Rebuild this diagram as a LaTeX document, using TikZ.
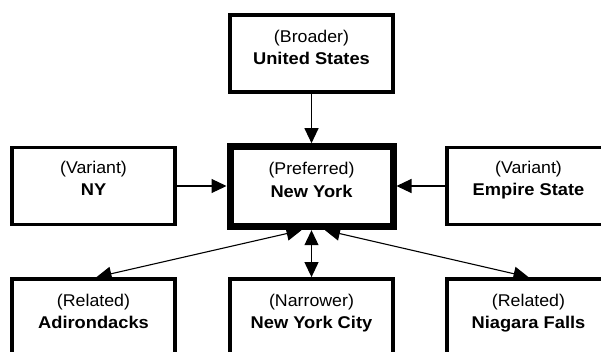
\documentclass[tikz,border=0pt]{standalone}
\usepackage{fontspec}
\setmainfont{Liberation Sans}[FakeStretch=1.045, BoldFeatures={FakeStretch=1.075}]
\usetikzlibrary{arrows.meta}
\begin{document}
\begin{tikzpicture}[x=1pt, y=-1pt,
  termbox/.style={draw, rectangle, line width=3.8pt, minimum width=163pt,
    minimum height=77pt, inner sep=0pt},
  mainbox/.style={termbox, line width=7pt, minimum height=80pt},
  termtext/.style={align=center, inner sep=0pt, anchor=base,
    font=\fontsize{17}{22.5}\selectfont},
  link/.style={line width=1.1pt, -{Triangle[length=15pt, width=14pt]}},
  twolink/.style={line width=1.1pt, {Triangle[length=15pt, width=14pt]}-{Triangle[length=15pt, width=14pt]}}]
  \useasboundingbox (0,0) rectangle (601,351);
  \begin{scope}
  \clip (0,0) rectangle (601,351);
  % boxes
  \node[termbox] (us)  at (311.5, 53.8) {};
  \node[termbox] (ny)  at (93.5, 186) {};
  \node[mainbox] (nyk) at (311.5, 186.7) {};
  \node[termbox] (es)  at (528.5, 186) {};
  \node[termbox] (adi) at (93.5, 317.5) {};
  \node[termbox] (nyc) at (311.5, 317.5) {};
  \node[termbox] (nf)  at (528.5, 317.5) {};
  % labels
  \node[termtext] (tus)  at ([yshift=-11]us.center)  {(Broader)\\\textbf{United States}};
  \node[termtext] (tny)  at ([yshift=-9.5]ny.center)  {(Variant)\\\textbf{NY}};
  \node[termtext] (tnyk) at ([yshift=-10.5]nyk.center) {(Preferred)\\\textbf{New York}};
  \node[termtext] (tes)  at ([yshift=-9.5]es.center)  {(Variant)\\\textbf{Empire State}};
  \node[termtext] (tadi) at ([yshift=-11]adi.center) {(Related)\\\textbf{Adirondacks}};
  \node[termtext] (tnyc) at ([yshift=-11]nyc.center) {(Narrower)\\\textbf{New York City}};
  \node[termtext] (tnf)  at ([yshift=-11]nf.center)  {(Related)\\\textbf{Niagara Falls}};
  % connectors
  \draw[link] (us.south) -- (nyk.north);
  \draw[link] (ny.east) -- (ny.east -| nyk.west);
  \draw[link] (es.west) -- (es.west -| nyk.east);
  \draw[twolink] (nyk.south) -- (nyc.north);
  \draw[twolink] ([xshift=-10pt]nyk.south) -- ([xshift=3pt]adi.north);
  \draw[twolink] ([xshift=13.5pt]nyk.south) -- (nf.north);
  \end{scope}
\end{tikzpicture}
\end{document}
